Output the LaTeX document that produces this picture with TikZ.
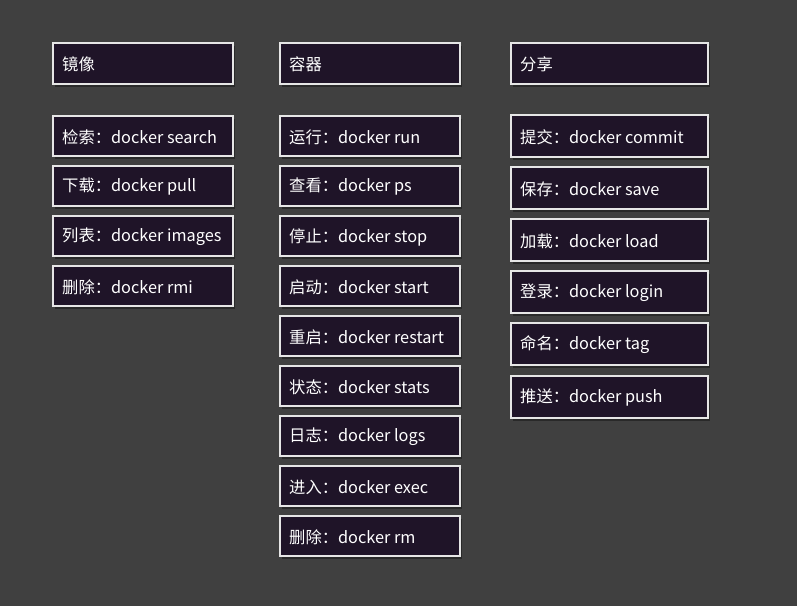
\documentclass[tikz,border=0pt]{standalone}
\usepackage{fontspec}
\setmainfont{Noto Sans CJK SC}
\usetikzlibrary{shadows}
\definecolor{bg}{HTML}{404040}
\definecolor{boxfill}{HTML}{1F1428}
\definecolor{boxline}{HTML}{E6E6E6}
\tikzset{
  cmdbox/.style={draw=boxline, line width=1.3pt, fill=boxfill, text=white,
    minimum height=#1, inner sep=0pt, outer sep=0pt,
    drop shadow={shadow xshift=2pt, shadow yshift=-3pt, opacity=0.35, fill=black}},
  cmdbox/.default=40pt,
  cmdtext/.style={anchor=west, text=white, font=\fontsize{16.3}{18}\selectfont, inner sep=0pt}
}
\newcommand{\cbox}[6]{% name, x0, y0, x1, y1, text
  \node[cmdbox=#5pt-#3pt, minimum width=#4pt-#2pt, anchor=north west] (#1) at (#2pt,-#3pt) {};
  \node[cmdtext] (#1t) at ([xshift=9pt,yshift=-1pt]#1.west) {#6};
}
\begin{document}
\begin{tikzpicture}[x=1pt,y=1pt]
\fill[bg] (0,0) rectangle (797,-606);
\useasboundingbox (0,0) rectangle (797,-606);
% column 1
\cbox{h1}{53}{43}{233}{84}{镜像}
\cbox{a1}{53}{116}{233}{156}{检索：docker search}
\cbox{a2}{53}{166}{233}{206}{下载：docker pull}
\cbox{a3}{53}{216}{233}{256}{列表：docker images}
\cbox{a4}{53}{266}{233}{306}{删除：docker rmi}
% column 2
\cbox{h2}{280}{43}{460}{84}{容器}
\cbox{b1}{280}{116}{460}{156}{运行：docker run}
\cbox{b2}{280}{166}{460}{206}{查看：docker ps}
\cbox{b3}{280}{216}{460}{256}{停止：docker stop}
\cbox{b4}{280}{266}{460}{306}{启动：docker start}
\cbox{b5}{280}{316}{460}{356}{重启：docker restart}
\cbox{b6}{280}{366}{460}{406}{状态：docker stats}
\cbox{b7}{280}{416}{460}{456}{日志：docker logs}
\cbox{b8}{280}{466}{460}{506}{进入：docker exec}
\cbox{b9}{280}{516}{460}{556}{删除：docker rm}
% column 3
\cbox{h3}{511}{43}{708}{84}{分享}
\cbox{c1}{511}{115}{708}{157}{提交：docker commit}
\cbox{c2}{511}{167}{708}{209}{保存：docker save}
\cbox{c3}{511}{219}{708}{261}{加载：docker load}
\cbox{c4}{511}{271}{708}{313}{登录：docker login}
\cbox{c5}{511}{323}{708}{365}{命名：docker tag}
\cbox{c6}{511}{376}{708}{418}{推送：docker push}
\end{tikzpicture}
\end{document}
